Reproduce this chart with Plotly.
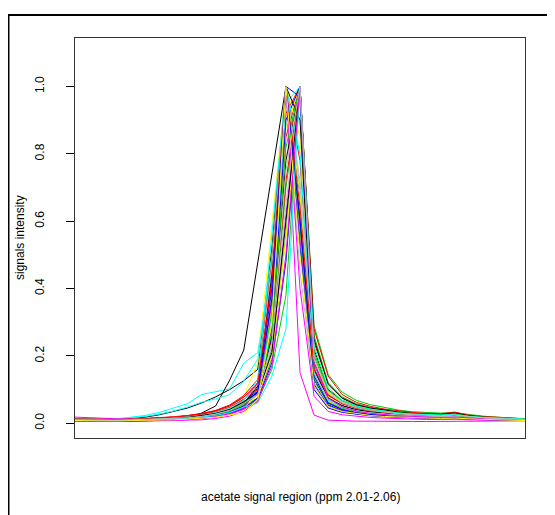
import plotly.graph_objects as go

# point index along the acetate signal region (ppm 2.01-2.06)
points = list(range(1, 34))

s01 = [0.012,0.011,0.010,0.011,0.014,0.018,0.025,0.034,0.045,0.060,0.078,0.100,0.126,0.160,0.520,1.000,0.680,0.170,0.075,0.052,0.040,0.033,0.028,0.025,0.022,0.020,0.019,0.021,0.016,0.014,0.012,0.011,0.010]
s02 = [0.010,0.009,0.009,0.009,0.010,0.011,0.012,0.014,0.017,0.021,0.028,0.040,0.062,0.095,0.280,0.850,1.000,0.180,0.085,0.058,0.044,0.036,0.031,0.027,0.024,0.022,0.021,0.024,0.018,0.015,0.013,0.012,0.011]
s03 = [0.009,0.008,0.008,0.008,0.009,0.010,0.011,0.012,0.015,0.018,0.024,0.034,0.052,0.075,0.190,0.560,1.000,0.290,0.145,0.092,0.068,0.055,0.046,0.039,0.034,0.031,0.030,0.031,0.025,0.021,0.018,0.015,0.013]
s04 = [0.008,0.007,0.007,0.007,0.008,0.009,0.010,0.012,0.014,0.018,0.024,0.035,0.055,0.120,0.460,1.000,0.970,0.130,0.055,0.038,0.030,0.025,0.022,0.019,0.017,0.016,0.015,0.016,0.013,0.011,0.010,0.009,0.009]
s05 = [0.013,0.012,0.011,0.013,0.017,0.023,0.032,0.044,0.058,0.085,0.094,0.102,0.178,0.210,0.470,1.000,0.520,0.120,0.060,0.042,0.033,0.027,0.023,0.020,0.018,0.017,0.016,0.017,0.014,0.012,0.011,0.010,0.009]
s06 = [0.006,0.005,0.005,0.005,0.005,0.006,0.006,0.007,0.008,0.010,0.014,0.021,0.035,0.065,0.300,1.000,0.150,0.024,0.009,0.007,0.006,0.006,0.005,0.005,0.005,0.005,0.005,0.006,0.005,0.005,0.005,0.006,0.007]
s07 = [0.011,0.010,0.009,0.009,0.010,0.010,0.011,0.012,0.014,0.017,0.022,0.034,0.080,0.180,0.600,1.000,0.850,0.200,0.080,0.050,0.037,0.030,0.025,0.022,0.020,0.018,0.017,0.018,0.015,0.013,0.012,0.011,0.010]
s08 = [0.010,0.009,0.008,0.008,0.009,0.010,0.011,0.013,0.016,0.020,0.027,0.038,0.060,0.100,0.380,1.000,0.620,0.120,0.058,0.040,0.032,0.027,0.023,0.020,0.018,0.017,0.016,0.017,0.014,0.012,0.011,0.010,0.009]
s09 = [0.008,0.007,0.007,0.007,0.008,0.009,0.010,0.012,0.016,0.030,0.051,0.128,0.217,0.480,0.740,1.000,0.600,0.130,0.060,0.042,0.033,0.027,0.023,0.020,0.018,0.017,0.016,0.018,0.014,0.012,0.011,0.010,0.009]
s10 = [0.012,0.011,0.010,0.010,0.011,0.013,0.015,0.018,0.022,0.028,0.037,0.052,0.078,0.110,0.350,0.920,1.000,0.240,0.120,0.075,0.055,0.044,0.037,0.032,0.028,0.025,0.024,0.030,0.021,0.017,0.015,0.013,0.012]
s11 = [0.009,0.008,0.008,0.008,0.009,0.010,0.011,0.013,0.016,0.020,0.026,0.037,0.056,0.085,0.220,0.700,1.000,0.200,0.090,0.060,0.045,0.037,0.031,0.027,0.024,0.022,0.021,0.023,0.018,0.015,0.013,0.012,0.011]
s12 = [0.008,0.008,0.007,0.007,0.008,0.008,0.009,0.011,0.013,0.016,0.021,0.030,0.048,0.070,0.180,0.480,1.000,0.160,0.070,0.045,0.034,0.028,0.024,0.021,0.019,0.017,0.016,0.017,0.014,0.012,0.011,0.010,0.010]
s13 = [0.012,0.011,0.011,0.012,0.015,0.020,0.027,0.036,0.048,0.062,0.072,0.085,0.125,0.190,0.500,1.000,0.700,0.150,0.065,0.045,0.035,0.029,0.025,0.022,0.020,0.018,0.017,0.018,0.015,0.013,0.011,0.010,0.009]
s14 = [0.018,0.016,0.014,0.013,0.013,0.013,0.014,0.016,0.019,0.024,0.031,0.044,0.068,0.120,0.420,1.000,0.550,0.110,0.050,0.035,0.028,0.024,0.021,0.018,0.017,0.016,0.015,0.016,0.013,0.012,0.011,0.010,0.010]
s15 = [0.010,0.009,0.008,0.008,0.008,0.009,0.010,0.011,0.013,0.016,0.020,0.028,0.042,0.070,0.240,0.880,1.000,0.190,0.090,0.060,0.046,0.038,0.032,0.028,0.025,0.023,0.022,0.024,0.019,0.016,0.014,0.012,0.011]
s16 = [0.009,0.008,0.008,0.008,0.009,0.009,0.010,0.012,0.014,0.018,0.024,0.034,0.052,0.090,0.320,1.000,0.450,0.100,0.048,0.034,0.027,0.023,0.020,0.018,0.016,0.015,0.014,0.015,0.012,0.011,0.010,0.009,0.009]
s17 = [0.010,0.009,0.009,0.009,0.010,0.011,0.012,0.014,0.017,0.021,0.028,0.040,0.062,0.095,0.260,0.780,1.000,0.220,0.100,0.068,0.052,0.042,0.035,0.030,0.027,0.024,0.023,0.027,0.020,0.016,0.014,0.012,0.011]
s18 = [0.013,0.012,0.011,0.011,0.012,0.014,0.016,0.019,0.023,0.029,0.038,0.054,0.082,0.130,0.480,1.000,0.780,0.180,0.085,0.058,0.045,0.037,0.032,0.028,0.025,0.023,0.022,0.026,0.019,0.016,0.014,0.012,0.011]
s19 = [0.008,0.007,0.007,0.007,0.008,0.009,0.010,0.011,0.013,0.017,0.022,0.031,0.048,0.068,0.160,0.380,1.000,0.260,0.120,0.078,0.058,0.047,0.040,0.034,0.030,0.027,0.026,0.028,0.022,0.018,0.016,0.014,0.012]
s20 = [0.009,0.008,0.008,0.008,0.008,0.009,0.010,0.012,0.014,0.018,0.024,0.034,0.053,0.105,0.400,1.000,0.520,0.100,0.045,0.032,0.026,0.022,0.019,0.017,0.015,0.014,0.013,0.014,0.012,0.010,0.009,0.009,0.008]
s21 = [0.011,0.010,0.010,0.010,0.011,0.012,0.014,0.017,0.020,0.025,0.033,0.046,0.070,0.100,0.300,0.950,1.000,0.170,0.075,0.050,0.038,0.031,0.027,0.024,0.021,0.019,0.018,0.020,0.016,0.013,0.012,0.011,0.010]
s22 = [0.007,0.006,0.006,0.006,0.006,0.007,0.008,0.009,0.011,0.014,0.019,0.027,0.043,0.075,0.200,0.620,1.000,0.150,0.060,0.040,0.030,0.025,0.021,0.018,0.016,0.015,0.014,0.015,0.012,0.010,0.009,0.008,0.008]
s23 = [0.009,0.008,0.008,0.008,0.008,0.009,0.010,0.011,0.013,0.016,0.021,0.029,0.045,0.085,0.350,1.000,0.680,0.140,0.065,0.044,0.034,0.028,0.024,0.021,0.019,0.018,0.017,0.018,0.015,0.013,0.011,0.010,0.009]
s24 = [0.010,0.009,0.009,0.009,0.010,0.011,0.012,0.014,0.017,0.021,0.028,0.039,0.060,0.090,0.230,0.650,1.000,0.210,0.095,0.063,0.048,0.039,0.033,0.029,0.026,0.024,0.023,0.025,0.019,0.016,0.014,0.012,0.011]
s25 = [0.009,0.008,0.008,0.008,0.009,0.010,0.011,0.013,0.016,0.020,0.026,0.037,0.057,0.110,0.440,1.000,0.900,0.160,0.075,0.052,0.040,0.033,0.028,0.025,0.022,0.020,0.019,0.022,0.017,0.014,0.012,0.011,0.010]
s26 = [0.011,0.010,0.010,0.010,0.011,0.012,0.014,0.016,0.020,0.025,0.033,0.047,0.071,0.100,0.250,0.720,1.000,0.280,0.140,0.085,0.062,0.050,0.042,0.036,0.032,0.029,0.028,0.033,0.024,0.020,0.017,0.014,0.013]
s27 = [0.010,0.009,0.009,0.009,0.010,0.011,0.012,0.014,0.017,0.021,0.028,0.040,0.061,0.095,0.330,1.000,0.580,0.130,0.062,0.044,0.035,0.030,0.026,0.023,0.021,0.020,0.019,0.021,0.017,0.014,0.013,0.012,0.011]
s28 = [0.008,0.007,0.007,0.007,0.007,0.008,0.009,0.010,0.012,0.015,0.020,0.028,0.044,0.075,0.260,0.900,1.000,0.140,0.060,0.040,0.031,0.026,0.022,0.019,0.017,0.016,0.015,0.016,0.013,0.011,0.010,0.009,0.009]
s29 = [0.012,0.011,0.010,0.010,0.011,0.012,0.014,0.016,0.019,0.024,0.032,0.045,0.068,0.130,0.560,1.000,0.800,0.150,0.068,0.047,0.037,0.030,0.026,0.023,0.020,0.019,0.018,0.019,0.015,0.013,0.012,0.011,0.010]
s30 = [0.008,0.007,0.007,0.007,0.008,0.008,0.009,0.010,0.012,0.015,0.020,0.029,0.046,0.090,0.360,1.000,0.400,0.080,0.035,0.025,0.020,0.017,0.015,0.013,0.012,0.011,0.011,0.012,0.010,0.009,0.008,0.008,0.008]
s31 = [0.010,0.009,0.009,0.009,0.009,0.010,0.011,0.013,0.015,0.019,0.025,0.035,0.054,0.080,0.200,0.550,1.000,0.230,0.105,0.068,0.051,0.041,0.035,0.030,0.027,0.025,0.024,0.026,0.020,0.017,0.015,0.013,0.012]
s32 = [0.011,0.010,0.010,0.010,0.011,0.012,0.013,0.015,0.018,0.023,0.030,0.043,0.066,0.115,0.470,1.000,0.720,0.150,0.070,0.048,0.037,0.031,0.027,0.024,0.021,0.020,0.019,0.020,0.016,0.014,0.012,0.011,0.010]
s33 = [0.010,0.009,0.009,0.009,0.010,0.011,0.012,0.014,0.017,0.022,0.029,0.041,0.064,0.090,0.210,0.600,1.000,0.250,0.115,0.074,0.055,0.045,0.038,0.033,0.029,0.027,0.026,0.030,0.022,0.018,0.016,0.014,0.012]
s34 = [0.012,0.011,0.010,0.010,0.011,0.013,0.015,0.018,0.022,0.027,0.036,0.051,0.077,0.120,0.420,1.000,0.640,0.160,0.082,0.058,0.046,0.038,0.033,0.029,0.026,0.024,0.023,0.028,0.020,0.017,0.015,0.013,0.012]
s35 = [0.009,0.008,0.008,0.008,0.009,0.010,0.011,0.013,0.015,0.019,0.025,0.036,0.055,0.085,0.270,0.820,1.000,0.210,0.098,0.066,0.050,0.041,0.035,0.031,0.028,0.026,0.025,0.027,0.021,0.018,0.016,0.014,0.013]
s36 = [0.009,0.008,0.008,0.008,0.009,0.009,0.010,0.012,0.014,0.018,0.023,0.033,0.051,0.095,0.370,1.000,0.600,0.115,0.052,0.036,0.029,0.024,0.021,0.019,0.017,0.016,0.015,0.016,0.013,0.011,0.010,0.009,0.009]
s37 = [0.009,0.008,0.008,0.008,0.009,0.010,0.011,0.012,0.014,0.018,0.023,0.032,0.048,0.060,0.140,0.280,1.000,0.230,0.105,0.068,0.051,0.042,0.035,0.030,0.027,0.025,0.024,0.026,0.020,0.017,0.015,0.013,0.012]
s38 = [0.007,0.006,0.006,0.006,0.006,0.007,0.008,0.009,0.011,0.014,0.018,0.026,0.041,0.065,0.170,0.500,1.000,0.180,0.075,0.048,0.036,0.029,0.025,0.022,0.020,0.018,0.017,0.018,0.015,0.012,0.011,0.010,0.009]
s39 = [0.008,0.007,0.007,0.007,0.008,0.008,0.009,0.010,0.012,0.014,0.018,0.025,0.030,0.070,0.300,1.000,0.500,0.110,0.050,0.035,0.028,0.023,0.020,0.018,0.016,0.015,0.014,0.015,0.012,0.011,0.010,0.009,0.008]
s40 = [0.010,0.009,0.009,0.009,0.010,0.011,0.012,0.014,0.016,0.020,0.027,0.038,0.058,0.085,0.240,0.750,1.000,0.190,0.088,0.060,0.046,0.038,0.032,0.028,0.025,0.023,0.022,0.024,0.019,0.016,0.014,0.012,0.011]

series = [s01, s02, s03, s04, s05, s06, s07, s08, s09, s10,
          s11, s12, s13, s14, s15, s16, s17, s18, s19, s20,
          s21, s22, s23, s24, s25, s26, s27, s28, s29, s30,
          s31, s32, s33, s34, s35, s36, s37, s38, s39, s40]

palette = ["#000000", "#FF0000", "#00CD00", "#0000FF",
           "#00FFFF", "#FF00FF", "#FFFF00", "#BEBEBE"]

y_ticks = [0.0, 0.2, 0.4, 0.6, 0.8, 1.0]
y_tick_labels = ["0.0", "0.2", "0.4", "0.6", "0.8", "1.0"]

FONT = "Liberation Sans, Arial, sans-serif"

fig = go.Figure()
for k, s in enumerate(series):
    fig.add_trace(go.Scatter(
        x=points, y=s, mode="lines",
        line=dict(color=palette[k % len(palette)], width=1),
        showlegend=False, hoverinfo="skip"))

# page body has an 8px margin; figure is sized/positioned to compensate
OFF = 8
W, H = 555 - OFF, 515 - OFF
L, T = 75 - OFF, 38 - OFF
pw, ph = 450, 400
R, B = W - L - pw, H - T - ph

def px_x(p):  # page pixel -> paper x
    return (p - OFF - L) / pw

def px_y(p):  # page pixel -> paper y
    return (T + ph - (p - OFF)) / ph

fig.update_layout(
    width=W, height=H,
    margin=dict(l=L, r=R, t=T, b=B, autoexpand=False),
    paper_bgcolor="white", plot_bgcolor="white",
    font=dict(family=FONT, size=12, color="black"),
    xaxis=dict(range=[1, 33], showticklabels=False, ticks="",
               showgrid=False, zeroline=False, showline=True,
               linecolor="#333333", linewidth=1, mirror=True),
    yaxis=dict(range=[-0.044, 1.144], tickvals=y_ticks, ticktext=y_tick_labels,
               ticks="outside", ticklen=8, tickcolor="#000000", tickwidth=1,
               tickangle=-90, ticklabelstandoff=17,
               tickfont=dict(family=FONT, size=12, color="black"),
               showgrid=False, zeroline=False, showline=True,
               linecolor="#333333", linewidth=1, mirror=True),
    shapes=[dict(type="rect", xref="paper", yref="paper",
                 x0=px_x(8.5), x1=px_x(620), y0=px_y(15), y1=px_y(620),
                 line=dict(color="black", width=2), fillcolor="rgba(0,0,0,0)",
                 layer="above")],
    annotations=[
        dict(text="acetate signal region (ppm 2.01-2.06)", xref="paper", yref="paper",
             x=0.5, y=px_y(497), xanchor="center", yanchor="middle", showarrow=False,
             font=dict(family=FONT, size=12, color="black")),
        dict(text="signals intensity", xref="paper", yref="paper",
             x=px_x(20), y=0.5, xanchor="center", yanchor="middle", textangle=-90,
             showarrow=False, font=dict(family=FONT, size=12, color="black")),
    ],
)

fig.write_html("out.html")
